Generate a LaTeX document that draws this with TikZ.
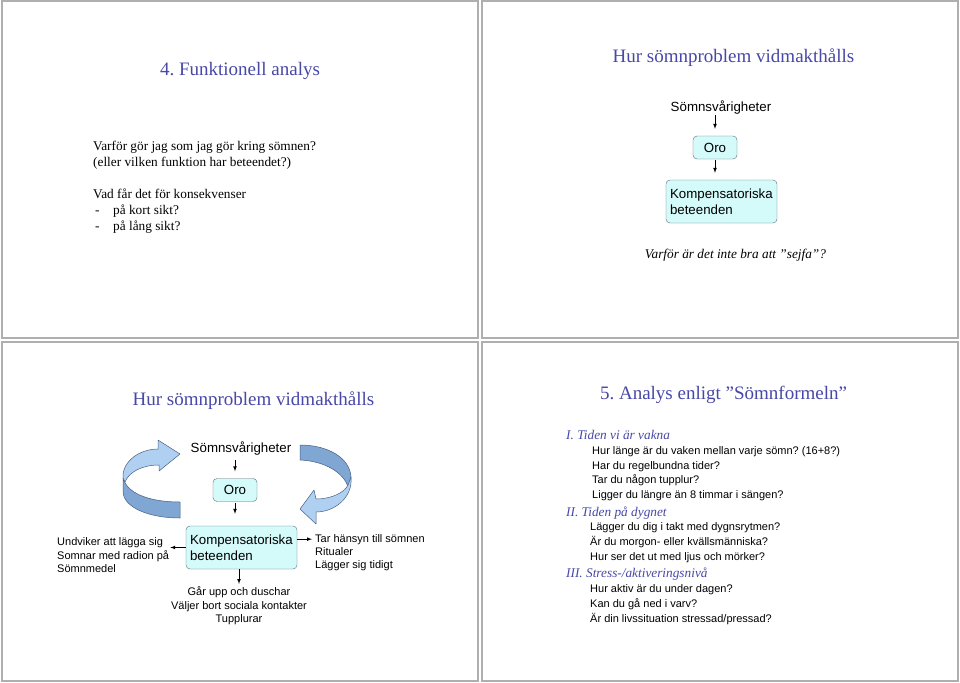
\documentclass[tikz,border=0pt]{standalone}
\usepackage{fontspec}
\setmainfont{Liberation Serif}
\setsansfont{Liberation Sans}
\frenchspacing
\definecolor{slidegray}{RGB}{175,175,175}
\definecolor{titleblue}{RGB}{72,72,168}
\definecolor{boxfill}{RGB}{212,250,250}
\definecolor{boxline}{RGB}{95,110,120}
\definecolor{ribbonlight}{RGB}{176,208,242}
\definecolor{ribbondark}{RGB}{128,166,212}
\definecolor{ribbonline}{RGB}{70,95,130}

\begin{document}
\begin{tikzpicture}[x=1pt, y=-1pt]

      \tikzset{slide/.style={draw=slidegray, line width=1.2pt},
               slidetitle/.style={anchor=base, inner sep=0pt, text=titleblue, font=\fontsize{19}{23}\selectfont},
               serifline/.style={anchor=base west, inner sep=0pt, font=\fontsize{13.3}{16}\selectfont},
               sansline/.style={anchor=base west, inner sep=0pt, font=\sffamily\fontsize{11}{13.5}\selectfont},
               partline/.style={anchor=base west, inner sep=0pt, text=titleblue, font=\itshape\fontsize{13.3}{16}\selectfont},
               flowtext/.style={anchor=base, inner sep=0pt, font=\sffamily\fontsize{13.3}{16}\selectfont},
               flowbox/.style={draw=boxline, fill=boxfill, rounded corners=4pt, inner sep=0pt, font=\sffamily\fontsize{13.3}{16}\selectfont},
               orobox/.style={flowbox, minimum width=44pt, minimum height=23pt},
               kompbox/.style={flowbox, minimum width=111pt, minimum height=43pt, text width=103pt, align=left},
               ribbonfront/.style={fill=ribbonlight, draw=ribbonline, line width=0.5pt, line join=round},
               ribbonback/.style={fill=ribbondark, draw=ribbonline, line width=0.5pt, line join=round}}

      \useasboundingbox (0,0) rectangle (960,682);
      \fill[white] (0,0) rectangle (960,682);

%% Slides
      \draw[slide] (2,1) rectangle (478,338);
      \draw[slide] (482,1) rectangle (958,338);
      \draw[slide] (2,342) rectangle (478,681);
      \draw[slide] (482,342) rectangle (958,681);

%% Slide 1
      \node[slidetitle] (title1) at (240,76) {4. Funktionell analys};
      \node[serifline] (why1) at (93,150) {Varför gör jag som jag gör kring sömnen?};
      \node[serifline] (why2) at (93,166) {(eller vilken funktion har beteendet?)};
      \node[serifline] (cons) at (93,198) {Vad får det för konsekvenser};
      \node[serifline] (dash1) at (95,214) {-};
      \node[serifline] (short) at (113,214) {på kort sikt?};
      \node[serifline] (dash2) at (95,230) {-};
      \node[serifline] (long) at (113,230) {på lång sikt?};

%% Slide 2
      \node[slidetitle] (title2) at (733.5,63) {Hur sömnproblem vidmakthålls};
      \node[flowtext] (somn2) at (721,111) {Sömnsvårigheter};
      \node[orobox] (oro2) at (715,147.5) {Oro};
      \node[kompbox] (komp2) at (721.5,201.5) {Kompensatoriska\\beteenden};
      \node[anchor=base, inner sep=0pt, font=\itshape\fontsize{13.3}{16}\selectfont] (sejfa) at (735.5,258) {Varför är det inte bra att ”sejfa”?};
%Edges
      \path [->, >=latex, line width=0.7pt] (oro2.north |- somn2.south) edge [shorten <=1pt, shorten >=7pt] (oro2.north);
      \path [->, >=latex, line width=0.7pt] (oro2.south) edge [shorten <=1pt, shorten >=7pt] (oro2.south |- komp2.north);

%% Slide 3
      \node[slidetitle] (title3) at (253.5,405) {Hur sömnproblem vidmakthålls};
      \node[flowtext] (somn3) at (241,452.5) {Sömnsvårigheter};
      \node[orobox] (oro3) at (235,490) {Oro};
      \node[kompbox] (komp3) at (241.5,547.5) {Kompensatoriska\\beteenden};

      \node[sansline] (undv) at (57,545) {Undviker att lägga sig};
      \node[sansline] (radio) at (57,559) {Somnar med radion på};
      \node[sansline] (medel) at (57,572) {Sömnmedel};

      \node[sansline] (hansyn) at (315,542) {Tar hänsyn till sömnen};
      \node[sansline] (ritual) at (315,555) {Ritualer};
      \node[sansline] (tidigt) at (315,568) {Lägger sig tidigt};

      \node[sansline, anchor=base] (dusch) at (239,595) {Går upp och duschar};
      \node[sansline, anchor=base] (kontakt) at (239,609) {Väljer bort sociala kontakter};
      \node[sansline, anchor=base] (tupp) at (239,622) {Tupplurar};
%Edges
      \path [->, >=latex, line width=0.7pt] (oro3.north |- somn3.south) edge [shorten <=5pt, shorten >=7pt] (oro3.north);
      \path [->, >=latex, line width=0.7pt] (oro3.south) edge [shorten <=1pt, shorten >=12pt] (oro3.south |- komp3.north);
      \path [->, >=latex, line width=0.7pt] (komp3.west) edge [shorten >=1pt] (radio.east |- komp3.west);
      \path [->, >=latex, line width=0.7pt] (komp3.east |- hansyn.west) edge [shorten >=3pt] (hansyn.west);
      \path [->, >=latex, line width=0.7pt] (komp3.south -| dusch.north) edge [shorten >=2pt] (dusch.north);
%Ribbon arrows
      \filldraw[ribbonback] (123,478) .. controls (128,496) and (155,502) .. (180,502) -- (180,518) .. controls (150,518) and (123,508) .. (123,491) -- cycle;
      \filldraw[ribbonfront] (123,478) .. controls (122,461) and (140,449) .. (158,449) -- (158,440) -- (180,454) -- (159,471) -- (159,465) .. controls (142,465) and (129,472) .. (125,482) -- cycle;
      \filldraw[ribbonback] (300,445) .. controls (328,445) and (350,458) .. (351,477) -- (348,487) .. controls (344,473) and (325,461) .. (300,460) -- cycle;
      \filldraw[ribbonfront] (351,477) .. controls (353,498) and (334,512) .. (316,512) -- (316,524) -- (300,509) -- (314,490) -- (316,499) .. controls (332,499) and (345,492) .. (348,485) -- cycle;

%% Slide 4
      \node[slidetitle] (title4) at (723.5,399) {5. Analys enligt ”Sömnformeln”};
      \node[partline] (part1) at (566,439) {I. Tiden vi är vakna};
      \node[sansline] (q11) at (592,454) {Hur länge är du vaken mellan varje sömn? (16+8?)};
      \node[sansline] (q12) at (592,469) {Har du regelbundna tider?};
      \node[sansline] (q13) at (592,483) {Tar du någon tupplur?};
      \node[sansline] (q14) at (592,498) {Ligger du längre än 8 timmar i sängen?};
      \node[partline] (part2) at (566,516) {II. Tiden på dygnet};
      \node[sansline] (q21) at (590,530) {Lägger du dig i takt med dygnsrytmen?};
      \node[sansline] (q22) at (590,545) {Är du morgon- eller kvällsmänniska?};
      \node[sansline] (q23) at (590,560) {Hur ser det ut med ljus och mörker?};
      \node[partline] (part3) at (566,577) {III. Stress-/aktiveringsnivå};
      \node[sansline] (q31) at (590,592) {Hur aktiv är du under dagen?};
      \node[sansline] (q32) at (590,607) {Kan du gå ned i varv?};
      \node[sansline] (q33) at (590,622) {Är din livssituation stressad/pressad?};

\end{tikzpicture}
\end{document}
